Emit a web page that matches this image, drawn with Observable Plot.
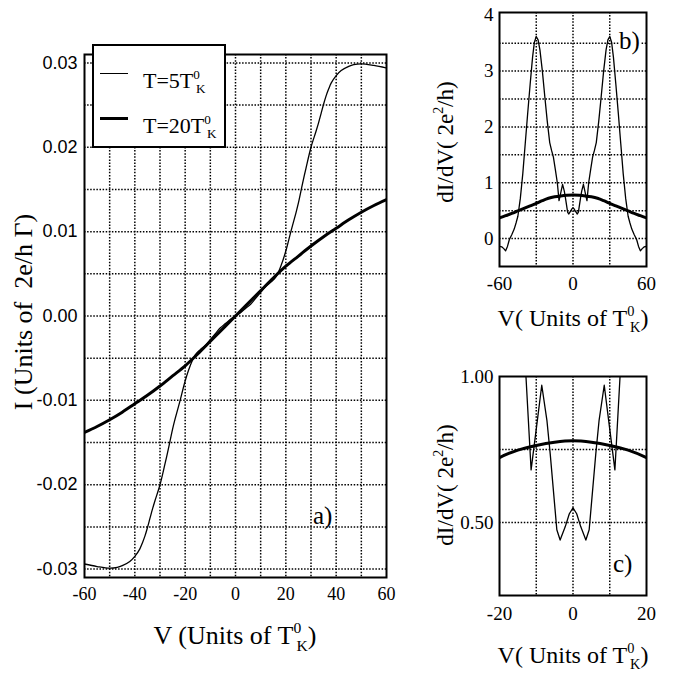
<!DOCTYPE html>
<html>
<head>
<meta charset="utf-8">
<script src="https://cdn.jsdelivr.net/npm/d3@7"></script>
<script src="https://cdn.jsdelivr.net/npm/@observablehq/plot@0.6"></script>
<style>
  html, body { margin: 0; padding: 0; background: #fff; }
  #root { position: relative; width: 674px; height: 673px; overflow: hidden; background: #fff; color: #000; }
  .pnl { position: absolute; }
  .t { position: absolute; white-space: nowrap; font-family: "Liberation Serif", "Times New Roman", serif; line-height: 1; color: #000; }
  .t sup { font-size: 0.6em; vertical-align: 0.72em; line-height: 0; }
  .t sub { font-size: 0.6em; vertical-align: -0.42em; line-height: 0; margin-left: -0.3em; }
  .rot { transform: translate(-50%, -50%) rotate(-90deg); }
  .hc { transform: translateX(-50%); }
  #legend { position: absolute; left: 92px; top: 44px; width: 134px; height: 104px; box-sizing: border-box; border: 2px solid #000; background: #fff; z-index: 5; }
  .ls { position: absolute; background: #000; }
</style>
</head>
<body>
<div id="root"></div>
<script>
// ---------- data ----------
// panel a) current I vs V
const vThinA = [-60,-55,-50,-47,-45,-42,-40,-38,-37,-36,-35,-34,-33,-32,-30,-28,-27,-26,-25,-24,-22,-20,-18,-16,-14,-12,-10,-8,-6,-4,-2,0,
                2,4,6,8,10,12,14,16,18,20,22,24,25,26,27,28,30,32,33,34,35,36,37,38,40,42,45,47,50,55,60];
const iThinA = [-0.0294,-0.0297,-0.0299,-0.0298,-0.0296,-0.0291,-0.0285,-0.0276,-0.0269,-0.0261,-0.0251,-0.0240,-0.0229,-0.0219,-0.0200,-0.0175,-0.0162,-0.0148,-0.0134,-0.0122,-0.0100,-0.0077,-0.0059,-0.0046,-0.0040,-0.0035,-0.0028,-0.0021,-0.0014,-0.0009,-0.0004,0,
                0.0004,0.0009,0.0014,0.0021,0.0028,0.0035,0.0040,0.0046,0.0059,0.0077,0.0100,0.0122,0.0134,0.0148,0.0162,0.0175,0.0200,0.0219,0.0229,0.0240,0.0251,0.0261,0.0269,0.0276,0.0285,0.0291,0.0296,0.0298,0.0299,0.0297,0.0294];
const vThickA = [-60,-55,-50,-45,-40,-35,-30,-25,-20,-15,-10,-5,0,5,10,15,20,25,30,35,40,45,50,55,60];
const iThickA = [-0.0138,-0.0131,-0.0123,-0.0114,-0.0104,-0.0094,-0.0083,-0.0071,-0.0059,-0.0045,-0.0030,-0.0015,0,
                 0.0015,0.0030,0.0045,0.0059,0.0071,0.0083,0.0094,0.0104,0.0114,0.0123,0.0131,0.0138];

// panels b) and c) differential conductance dI/dV vs V
const vThinG = [-60,-58,-56.5,-55,-53.5,-52,-50,-48,-46.5,-45,-43,-41,-39,-37,-35,-33,-31.5,-30,-28.5,-27,-25,-23,-21,-19,-17.5,-16,-14.5,-12.8,-11.4,-10,-8.5,-7.1,-6.2,-4.4,-3.5,-2.1,-1,0,
                1,2.1,3.5,4.4,6.2,7.1,8.5,10,11.4,12.8,14.5,16,17.5,19,21,23,25,27,28.5,30,31.5,33,35,37,39,41,43,45,46.5,48,50,52,53.5,55,56.5,58,60];
const gThin = [-0.14,-0.15,-0.18,-0.22,-0.14,-0.02,0.07,0.17,0.28,0.40,0.72,1.16,1.70,2.24,2.76,3.25,3.52,3.62,3.56,3.38,3.00,2.54,2.10,1.72,1.58,1.46,1.25,1.00,0.68,0.82,0.97,0.85,0.735,0.475,0.44,0.486,0.53,0.55,
               0.53,0.486,0.44,0.475,0.735,0.85,0.97,0.82,0.68,1.00,1.25,1.46,1.58,1.72,2.10,2.54,3.00,3.38,3.56,3.62,3.52,3.25,2.76,2.24,1.70,1.16,0.72,0.40,0.28,0.17,0.07,-0.02,-0.14,-0.22,-0.18,-0.15,-0.14];
const vThickG = [-60,-55,-50,-45,-40,-35,-30,-25,-20,-15,-10,-5,0,5,10,15,20,25,30,35,40,45,50,55,60];
const gThick = [0.37,0.41,0.45,0.495,0.54,0.585,0.63,0.68,0.722,0.748,0.764,0.775,0.78,
                0.775,0.764,0.748,0.722,0.68,0.63,0.585,0.54,0.495,0.45,0.41,0.37];

// ticks and grid values
const xTicksA = [-60,-40,-20,0,20,40,60];
const yTicksA = [-0.03,-0.02,-0.01,0,0.01,0.02,0.03];
const xGridA = [-50,-40,-30,-20,-10,0,10,20,30,40,50];
const yGridA = [-0.03,-0.025,-0.02,-0.015,-0.01,-0.005,0,0.005,0.01,0.015,0.02,0.025,0.03];
const xTicksB = [-60,0,60];
const yTicksB = [0,1,2,3,4];
const xGridB = [-30,0,30];
const yGridB = [0,0.5,1,1.5,2,2.5,3,3.5];
const xTicksC = [-20,0,20];
const yTicksC = [0.5,1.0];
const xGridC = [-10,0,10];
const yGridC = [0.5,0.75];

const legendLabels = ["T=5T", "T=20T"];

// ---------- tables ----------
const thinA = vThinA.map((v, k) => ({v, y: iThinA[k]}));
const thickA = vThickA.map((v, k) => ({v, y: iThickA[k]}));
const thinG = vThinG.map((v, k) => ({v, y: gThin[k]}));
const thickG = vThickG.map((v, k) => ({v, y: gThick[k]}));

const dot = {stroke: "black", strokeWidth: 1.5, strokeDasharray: "1.5,1.6"};
const serif = "'Liberation Serif', 'Times New Roman', serif";
const sans = "'Liberation Sans', Arial, Helvetica, sans-serif";

function panel(opts) {
  return Plot.plot({
    width: opts.width, height: opts.height,
    marginLeft: opts.ml, marginRight: opts.mr, marginTop: opts.mt, marginBottom: opts.mb,
    style: {fontFamily: serif, fontSize: opts.fs, background: "transparent", overflow: "visible", color: "black"},
    x: {domain: opts.xd, ticks: opts.xt, tickFormat: d => String(d), tickSize: 0, tickPadding: opts.xpad, label: null},
    y: {domain: opts.yd, ticks: opts.yt, tickFormat: opts.yf, tickSize: 0, tickPadding: opts.ypad, label: null},
    marks: [
      Plot.ruleX(opts.xg, dot),
      Plot.ruleY(opts.yg, dot),
      Plot.line(opts.thin, {x: "v", y: "y", stroke: "black", strokeWidth: 1.3, curve: opts.thinCurve, clip: true}),
      Plot.line(opts.thick, {x: "v", y: "y", stroke: "black", strokeWidth: 3, curve: "catmull-rom", clip: true}),
      Plot.frame({stroke: "black", strokeWidth: 2})
    ]
  });
}

const root = document.getElementById("root");

const pa = panel({width: 420, height: 673, ml: 84, mr: 34, mt: 54, mb: 96, fs: "18px",
  xd: [-60, 60], yd: [-0.031, 0.031], xt: xTicksA, yt: yTicksA, yf: d => d.toFixed(2),
  xpad: 10, ypad: 7, xg: xGridA, yg: yGridA, thin: thinA, thick: thickA, thinCurve: "catmull-rom"});
pa.classList.add("pnl"); pa.style.left = "0px"; pa.style.top = "0px";
pa.querySelectorAll('g[aria-label^="y-axis"]').forEach(g => { g.style.fontFamily = sans; g.setAttribute("font-family", sans); });
root.appendChild(pa);

const pb = panel({width: 254, height: 340, ml: 79, mr: 28, mt: 12, mb: 74, fs: "19px",
  xd: [-60, 60], yd: [-0.5, 4.05], xt: xTicksB, yt: yTicksB, yf: d => String(d),
  xpad: 10, ypad: 6, xg: xGridB, yg: yGridB, thin: thinG, thick: thickG, thinCurve: "linear"});
pb.classList.add("pnl"); pb.style.left = "420px"; pb.style.top = "0px";
root.appendChild(pb);

const pc = panel({width: 254, height: 333, ml: 79, mr: 28, mt: 36, mb: 78, fs: "19px",
  xd: [-20, 20], yd: [0.25, 1.0], xt: xTicksC, yt: yTicksC, yf: d => d.toFixed(2),
  xpad: 11, ypad: 6, xg: xGridC, yg: yGridC, thin: thinG, thick: thickG, thinCurve: "linear"});
pc.classList.add("pnl"); pc.style.left = "420px"; pc.style.top = "340px";
root.appendChild(pc);

// ---------- text overlays ----------
function addText(html, css, cls) {
  const d = document.createElement("div");
  d.className = "t" + (cls ? " " + cls : "");
  d.innerHTML = html;
  Object.assign(d.style, css);
  root.appendChild(d);
  return d;
}
const TK = 'T<sup>0</sup><sub>K</sub>';
addText('V (Units of ' + TK + ')', {left: "235px", top: "623px", fontSize: "26px"}, "hc");
addText('I (Units of &nbsp;2e/h Γ)', {left: "24px", top: "312px", fontSize: "26px"}, "rot");
addText('V( Units of ' + TK + ')', {left: "573px", top: "306px", fontSize: "24px"}, "hc");
addText('dI/dV( 2e<sup style="margin-left:0">2</sup>/h)', {left: "445px", top: "142px", fontSize: "23px"}, "rot");
addText('V( Units of ' + TK + ')', {left: "573px", top: "643px", fontSize: "24px"}, "hc");
addText('dI/dV( 2e<sup style="margin-left:0">2</sup>/h)', {left: "445px", top: "485px", fontSize: "23px"}, "rot");
addText('a)', {left: "313px", top: "503px", fontSize: "25px"});
addText('b)', {left: "619px", top: "28px", fontSize: "25px", background: "#fff"});
addText('c)', {left: "613px", top: "551px", fontSize: "25px"});

// legend
const lg = document.createElement("div");
lg.id = "legend";
root.appendChild(lg);
const s1 = document.createElement("div"); s1.className = "ls";
Object.assign(s1.style, {left: "6px", top: "27px", width: "28px", height: "1.2px"}); lg.appendChild(s1);
const s2 = document.createElement("div"); s2.className = "ls";
Object.assign(s2.style, {left: "6px", top: "70.5px", width: "28px", height: "3px"}); lg.appendChild(s2);
const l1 = document.createElement("div"); l1.className = "t";
l1.innerHTML = legendLabels[0] + '<sup>0</sup><sub>K</sub>';
Object.assign(l1.style, {left: "49px", top: "23.5px", fontSize: "22px"}); lg.appendChild(l1);
const l2 = document.createElement("div"); l2.className = "t";
l2.innerHTML = legendLabels[1] + '<sup>0</sup><sub>K</sub>';
Object.assign(l2.style, {left: "49px", top: "68.5px", fontSize: "22px"}); lg.appendChild(l2);
</script>
</body>
</html>
